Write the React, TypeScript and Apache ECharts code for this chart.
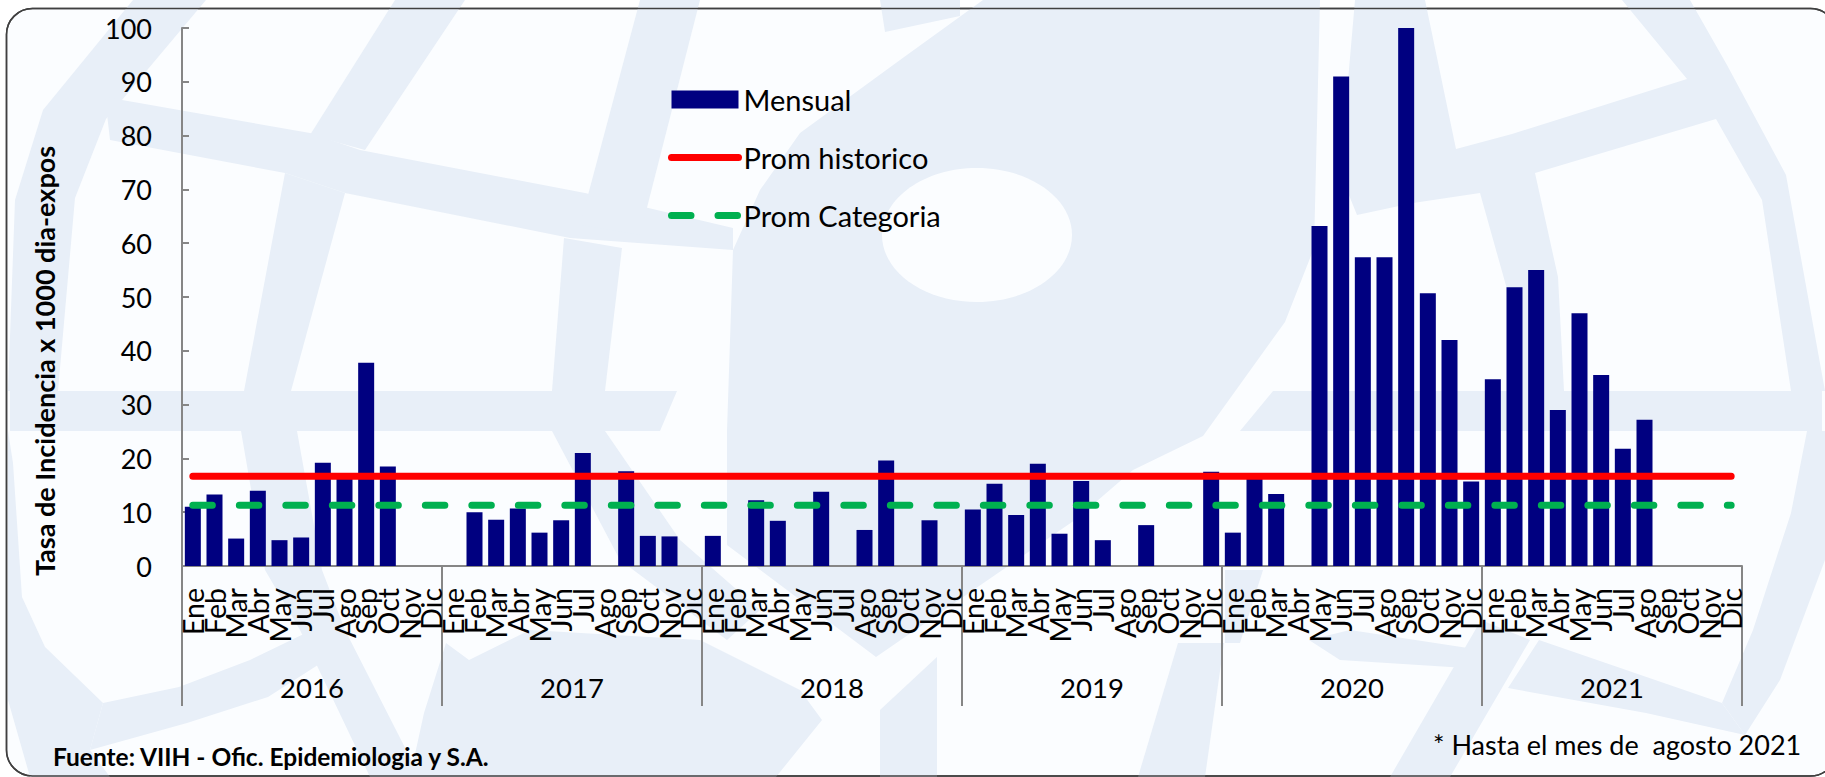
import React, { useEffect, useRef } from "react";
import * as echarts from "echarts";

const FONT = "Lato, 'Open Sans', sans-serif";
const monthNames = ["Ene","Feb","Mar","Abr","May","Jun","Jul","Ago","Sep","Oct","Nov","Dic"];
const years = ["2016","2017","2018","2019","2020","2021"];
const months = years.flatMap((y) => monthNames);
const v2016 = [11,13.3,5.1,14,4.8,5.3,19.2,16.6,37.8,18.5,null,null];
const v2017 = [null,10,8.6,10.7,6.2,8.5,21,null,17.6,5.6,5.5,null];
const v2018 = [5.6,null,12.2,8.4,null,13.8,null,6.7,19.6,null,8.5,null];
const v2019 = [10.5,15.3,9.5,19,6,15.8,4.8,null,7.6,null,null,17.5];
const v2020 = [6.2,16.6,13.4,null,63.2,91,57.4,57.4,100,50.7,42,15.7];
const v2021 = [34.7,51.8,55,29,47,35.5,21.8,27.2,null,null,null,null];
const mensual = [...v2016,...v2017,...v2018,...v2019,...v2020,...v2021];
const PROM_HISTORICO = 16.7;
const PROM_CATEGORIA = 11.3;
const promHistorico = months.map(() => PROM_HISTORICO);
const promCategoria = months.map(() => PROM_CATEGORIA);

const WM = "#e8eff8";
const PAPER = "#fbfdff";
const watermark: number[][][] = [
  // horizontal bands
  [[10,391],[677,391],[660,431],[10,431]],
  [[1273,391],[1822,391],[1822,431],[1240,431]],
  // central blob
  [[983,0],[900,60],[800,133],[760,190],[733,250],[727,431],[727,545],[876,657],[1075,520],[1133,470],[1203,436],[1285,322],[1314,248],[1320,0]],
  // top-left ring
  [[133,0],[206,0],[106,119],[75,198],[58,391],[8,391],[15,200],[43,110]],
  // diagonal band
  [[105,97],[310,133],[360,150],[585,193],[733,228],[733,250],[570,238],[345,193],[285,173],[110,140]],
  [[395,0],[465,0],[365,150],[310,135]],
  [[285,173],[345,193],[291,391],[244,391]],
  [[241,431],[297,431],[322,570],[345,630],[420,777],[370,777],[300,630],[265,570]],
  [[640,0],[700,0],[640,235],[580,225]],
  [[564,238],[622,248],[605,391],[552,391]],
  [[552,431],[605,431],[680,540],[760,610],[727,640],[620,560]],
  [[880,0],[960,0],[960,16],[885,32]],
  // lower-left
  [[8,431],[13,463],[22,597],[45,647],[103,703],[90,750],[110,777],[30,777],[8,700]],
  [[103,703],[179,687],[250,660],[312,630],[321,663],[268,697],[187,723],[90,750]],
  // lower centre
  [[446,643],[469,660],[530,630],[700,640],[800,690],[822,720],[776,777],[410,777],[424,713]],
  [[880,710],[937,657],[937,777],[880,777]],
  [[1178,643],[1224,643],[1205,777],[1138,777]],
  [[1225,570],[1263,570],[1240,643],[1225,643]],
  // right side
  [[1355,0],[1425,0],[1456,149],[1512,134],[1687,79],[1622,0],[1690,0],[1727,65],[1786,175],[1825,391],[1791,391],[1762,200],[1716,119],[1535,173],[1558,277],[1564,391],[1518,391],[1512,307],[1480,193],[1413,203],[1357,215],[1340,173]],
  [[1807,431],[1791,513],[1753,630],[1722,703],[1745,735],[1780,680],[1825,560],[1825,431]],
  [[1309,640],[1350,630],[1481,650],[1466,668],[1340,660]],
  [[1481,620],[1530,640],[1450,777],[1390,777]],
  [[1508,688],[1539,640],[1722,703],[1745,735],[1646,713]],
];

export default function App() {
  const ref = useRef<HTMLDivElement>(null);
  useEffect(() => {
    document.body.style.margin = "0";
    document.body.style.overflow = "hidden";
    const chart = echarts.init(ref.current!, null, { renderer: "svg" });
    const axisColor = "#868686";
    const hidden = { color: "transparent", borderWidth: 0 };
    chart.setOption({
      animation: false,
      backgroundColor: "#ffffff",
      textStyle: { fontFamily: FONT },
      grid: { left: 182, right: 83, top: 28, bottom: 211, containLabel: false },
      legend: {
        orient: "vertical", left: 668, top: 85, padding: 0, itemWidth: 67, itemHeight: 18, itemGap: 29,
        textStyle: { fontFamily: FONT, fontSize: 29, color: "#000" },
        data: [
          { name: "Mensual", icon: "rect" },
          { name: "Prom historico", itemStyle: hidden, lineStyle: { width: 7, cap: "round", color: "#ff0000" } },
          { name: "Prom Categoria", itemStyle: hidden, lineStyle: { width: 7, cap: "round", color: "#00b050", type: [19.5, 27] } },
        ],
      },
      xAxis: [
        {
          type: "category", data: months, position: "bottom",
          axisLine: { lineStyle: { color: axisColor, width: 2 } },
          axisTick: { show: false },
          axisLabel: { interval: 0, rotate: 90, margin: 22, fontFamily: FONT, fontSize: 28.5, color: "#000" },
        },
        {
          type: "category", data: years, position: "bottom",
          axisLine: { show: false },
          axisTick: { show: true, length: 140, lineStyle: { color: axisColor, width: 2 } },
          axisLabel: { interval: 0, margin: 107, fontFamily: FONT, fontSize: 27.5, color: "#000" },
        },
      ],
      yAxis: {
        type: "value", min: 0, max: 100, interval: 10,
        axisLine: { show: true, lineStyle: { color: axisColor, width: 2 } },
        axisTick: { show: true, inside: true, length: 7, lineStyle: { color: axisColor, width: 2 } },
        splitLine: { show: false },
        axisLabel: { margin: 30, fontFamily: FONT, fontSize: 27, color: "#000", padding: [0, 0, 3, 0] },
      },
      series: [
        { name: "Mensual", type: "bar", data: mensual, barWidth: 16, itemStyle: { color: "#000080" } },
        { name: "Prom historico", type: "line", data: promHistorico, symbol: "none", z: 5,
          itemStyle: { color: "#ff0000" }, lineStyle: { color: "#ff0000", width: 7, cap: "round" } },
        { name: "Prom Categoria", type: "line", data: promCategoria, symbol: "none", z: 4,
          itemStyle: { color: "#00b050" }, lineStyle: { color: "#00b050", width: 7, cap: "round", type: [19.5, 27] } },
      ],
      graphic: [
        { type: "rect", z: -20, silent: true, shape: { x: 6.5, y: 8.5, width: 1830, height: 767.5, r: 26 },
          style: { fill: PAPER, stroke: "#404040", lineWidth: 1.5 } },
        ...watermark.map((points) => ({ type: "polygon", z: -19, silent: true, shape: { points }, style: { fill: WM } })),
        { type: "ellipse", z: -18, silent: true, shape: { cx: 977, cy: 235, rx: 95, ry: 67 }, style: { fill: PAPER } },
        { type: "rect", z: -17, silent: true, shape: { x: 6.5, y: 8.5, width: 1830, height: 767.5, r: 26 },
          style: { fill: "none", stroke: "#404040", lineWidth: 1.5 } },
        { type: "text", z: 10, x: 44, y: 361, rotation: Math.PI / 2,
          style: { text: "Tasa de Incidencia x 1000 dia-expos", font: `bold 27px ${FONT}`, fill: "#000", align: "center", verticalAlign: "middle" } },
        { type: "text", x: 53, y: 756, z: 10, style: { text: "Fuente: VIIH - Ofic. Epidemiologia y S.A.", font: `bold 24.5px ${FONT}`, fill: "#000", verticalAlign: "middle" } },
        { type: "text", x: 1433, y: 744, z: 10, style: { text: "* Hasta el mes de  agosto 2021", font: `27px ${FONT}`, fill: "#000", verticalAlign: "middle" } },
      ],
    });
    return () => chart.dispose();
  }, []);
  return <div ref={ref} style={{ width: 1825, height: 777 }} />;
}
